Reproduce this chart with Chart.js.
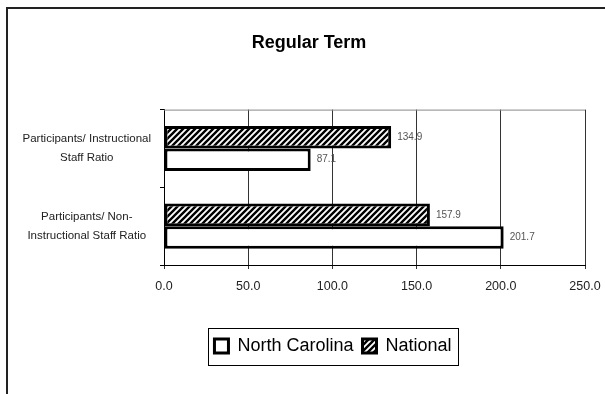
<!DOCTYPE html>
<html>
<head>
<meta charset="utf-8">
<script src="https://cdn.jsdelivr.net/npm/chart.js@4"></script>
<style>
  html, body { margin: 0; padding: 0; background: #fff; }
  #wrap { position: relative; width: 605px; height: 394px; }
</style>
</head>
<body>
<div id="wrap"><canvas id="chart" width="605" height="394"></canvas></div>
<script>
// Chart data
const categories = [
    ['Participants/ Instructional', 'Staff Ratio'],
    ['Participants/ Non-', 'Instructional Staff Ratio']
];
const northCarolina = [87.1, 201.7];
const national = [134.9, 157.9];
const xTicks = [0, 50, 100, 150, 200, 250];

const face = "'Liberation Sans', Arial, sans-serif";

// diagonal stripe fill for the National bars
function makeStripes() {
    const c = document.createElement('canvas');
    c.width = 6; c.height = 6;
    const g = c.getContext('2d');
    g.fillStyle = '#fff';
    g.fillRect(0, 0, 6, 6);
    g.strokeStyle = '#000';
    g.lineWidth = 2.4;
    g.beginPath();
    g.moveTo(-3, 3); g.lineTo(3, -3);
    g.moveTo(0, 6); g.lineTo(6, 0);
    g.moveTo(3, 9); g.lineTo(9, 3);
    g.stroke();
    return g.createPattern(c, 'repeat');
}
const stripes = makeStripes();

// outer frame, plot top border, legend box
const framePlugin = {
    id: 'frame',
    beforeDraw(chart) {
        const ctx = chart.ctx;
        ctx.save();
        ctx.fillStyle = '#fff';
        ctx.fillRect(0, 0, chart.width, chart.height);
        ctx.strokeStyle = '#222';
        ctx.lineWidth = 2;
        ctx.strokeRect(7, 8, 700, 500);
        ctx.restore();
    },
    afterLayout(chart) {
        const lg = chart.legend;
        const shift = 333 - (lg.left + lg.right) / 2;
        lg.left += shift; lg.right += shift;
        const t = chart.titleBlock;
        const ts = 309 - (t.left + t.right) / 2;
        t.left += ts; t.right += ts;
    },
    afterDraw(chart) {
        const ctx = chart.ctx;
        const a = chart.chartArea;
        ctx.save();
        ctx.strokeStyle = '#888';
        ctx.lineWidth = 1;
        ctx.beginPath();
        ctx.moveTo(a.left, a.top + 0.5);
        ctx.lineTo(a.right, a.top + 0.5);
        ctx.stroke();
        const lg = chart.legend;
        const boxes = lg.legendHitBoxes;
        if (boxes && boxes.length) {
            const x0 = Math.min(...boxes.map(b => b.left)) - 6;
            const x1 = Math.max(...boxes.map(b => b.left + b.width)) + 7;
            ctx.strokeStyle = '#000';
            ctx.strokeRect(Math.round(x0) + 0.5, Math.round(lg.top) + 0.5, Math.round(x1 - x0), Math.round(lg.bottom - lg.top));
        }
        ctx.restore();
    }
};

// value labels at the end of each bar
const valueLabels = {
    id: 'valueLabels',
    afterDatasetsDraw(chart) {
        const ctx = chart.ctx;
        ctx.save();
        ctx.font = '10px ' + face;
        ctx.fillStyle = '#555';
        ctx.textAlign = 'left';
        ctx.textBaseline = 'middle';
        chart.data.datasets.forEach((ds, i) => {
            chart.getDatasetMeta(i).data.forEach((bar, j) => {
                ctx.fillText(ds.data[j].toFixed(1), bar.x + 6, bar.y);
            });
        });
        ctx.restore();
    }
};

new Chart(document.getElementById('chart'), {
    type: 'bar',
    data: {
        labels: categories,
        datasets: [
            {
                label: 'National',
                data: national,
                backgroundColor: stripes,
                borderColor: '#000',
                borderWidth: 3,
                borderSkipped: false,
                categoryPercentage: 0.58,
                barPercentage: 1.0
            },
            {
                label: 'North Carolina',
                data: northCarolina,
                backgroundColor: '#fff',
                borderColor: '#000',
                borderWidth: 3,
                borderSkipped: false,
                categoryPercentage: 0.58,
                barPercentage: 1.0
            }
        ]
    },
    options: {
        indexAxis: 'y',
        responsive: false,
        animation: false,
        layout: { padding: { left: 13, right: 20, top: 32, bottom: 29 } },
        plugins: {
            title: {
                display: true,
                text: 'Regular Term',
                color: '#000',
                font: { family: face, size: 18, weight: 'bold' },
                padding: { top: 0, bottom: 56 }
            },
            legend: {
                position: 'bottom',
                reverse: true,
                labels: {
                    color: '#000',
                    font: { family: face, size: 18 },
                    boxWidth: 14,
                    boxHeight: 14,
                    padding: 9
                }
            },
            tooltip: { enabled: false }
        },
        scales: {
            x: {
                min: 0,
                max: 250,
                afterBuildTicks(scale) { scale.ticks = xTicks.map(v => ({ value: v })); },
                afterFit(scale) {
                    scale.height = 63;
                    scale.paddingLeft = 0;
                    scale.paddingRight = 0;
                },
                ticks: {
                    color: '#222',
                    font: { family: face, size: 12.5 },
                    padding: 10,
                    callback: v => Number(v).toFixed(1)
                },
                grid: { color: '#333', lineWidth: 1, tickLength: 4 },
                border: { color: '#000', width: 1 }
            },
            y: {
                afterFit(scale) { scale.width = 151; },
                ticks: {
                    color: '#222',
                    font: { family: face, size: 11.5, lineHeight: 1.65 },
                    crossAlign: 'center',
                    padding: 9
                },
                grid: { drawOnChartArea: false, drawTicks: true, tickLength: 4, color: '#000' },
                border: { color: '#000', width: 1 }
            }
        }
    },
    plugins: [framePlugin, valueLabels]
});
</script>
</body>
</html>
